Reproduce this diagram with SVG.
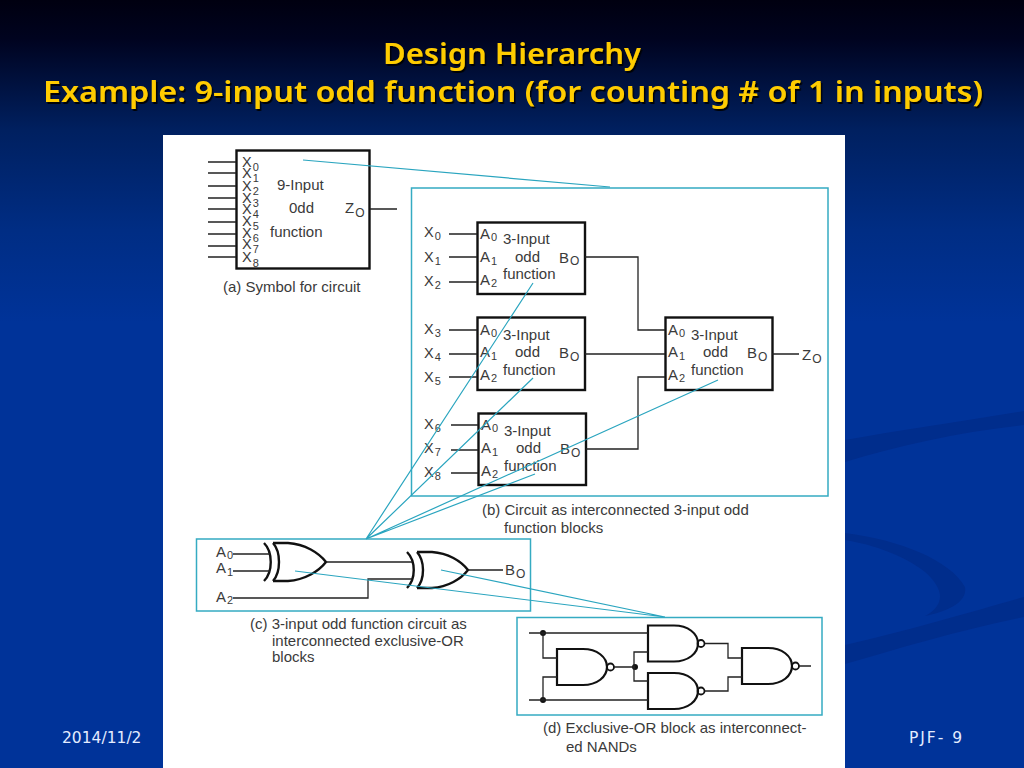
<svg xmlns="http://www.w3.org/2000/svg" width="1024" height="768" viewBox="0 0 1024 768">
<defs>
<linearGradient id="bg" x1="0" y1="0" x2="0" y2="1">
<stop offset="0" stop-color="#000010"/><stop offset="0.05" stop-color="#00031f"/><stop offset="0.17" stop-color="#002060"/><stop offset="0.3" stop-color="#002d84"/><stop offset="0.42" stop-color="#003399"/><stop offset="1" stop-color="#003399"/>
</linearGradient>
<filter id="shadow" x="-5%" y="-20%" width="110%" height="140%"><feDropShadow dx="1.5" dy="2" stdDeviation="0.6" flood-color="#000" flood-opacity="0.9"/></filter>
<path id="nand" d="M0 0H26C40 0 50 8 50 18C50 28 40 36 26 36H0Z" fill="none" stroke="#111" stroke-width="2.2"/>
</defs>
<style>
text{font-family:"Liberation Sans",Arial,sans-serif;fill:#3a3a3a;font-size:15px}
.title{font-family:"Noto Sans","DejaVu Sans",sans-serif;font-weight:600;font-size:29px;fill:#fc0;text-anchor:middle}
.foot{fill:#e4ecff;font-size:15.5px;font-family:"DejaVu Sans",sans-serif}
.blk{fill:none;stroke:#111;stroke-width:2.4}
.w{fill:none;stroke:#222;stroke-width:1.3}
.g{fill:none;stroke:#111;stroke-width:2.4}
.t{fill:none;stroke:#2aa5bf;stroke-width:1.2}
.tb{fill:#fff;stroke:#35abc2;stroke-width:1.5}
.s{font-size:11px}
.o{font-size:12px}
.big{font-size:14.500px}
.sw{fill:#002d8c}
.bub{fill:none;stroke:#111;stroke-width:1.8}
</style>
<rect id="background" width="1024" height="768" fill="url(#bg)"/>
<g id="swooshes">
<path class="sw" d="M845 440C900 430 970 420 1024 411V425C960 432 900 445 845 462Z"/>
<path class="sw" d="M845 645C910 630 970 612 1024 597V617C960 630 900 648 845 664Z"/>
<path class="sw" d="M845 533C900 540 950 560 965 587C968 603 945 612 925 616C945 605 945 590 925 572C905 556 875 545 845 540Z"/>
</g>
<g id="title">
<text class="title" x="512" y="64" filter="url(#shadow)" textLength="258" lengthAdjust="spacingAndGlyphs">Design Hierarchy</text>
<text class="title" x="513" y="102" filter="url(#shadow)" textLength="940" lengthAdjust="spacingAndGlyphs">Example: 9-input odd function (for counting # of 1 in inputs)</text>
</g>
<rect id="panel" x="163" y="135" width="682" height="633" fill="#fff"/>
<text class="foot" x="62" y="743">2014/11/2</text>
<text class="foot" x="909" y="743" textLength="53">PJF- 9</text>

<g id="frames">
<rect class="tb" x="411.500" y="188" width="416.500" height="308"/>
<rect class="tb" x="196.500" y="539" width="334" height="72"/>
<rect class="tb" x="517" y="617.500" width="305" height="97.500"/>
</g>

<g id="node-a">
<rect class="blk" x="236.500" y="150.500" width="133" height="118"/>
<text x="242" y="167" class="big">X<tspan class="s" dx="1" dy="3.500">0</tspan></text>
<text x="242" y="178" class="big">X<tspan class="s" dx="1" dy="3.500">1</tspan></text>
<text x="242" y="191" class="big">X<tspan class="s" dx="1" dy="3.500">2</tspan></text>
<text x="242" y="203" class="big">X<tspan class="s" dx="1" dy="3.500">3</tspan></text>
<text x="242" y="214" class="big">X<tspan class="s" dx="1" dy="3.500">4</tspan></text>
<text x="242" y="226" class="big">X<tspan class="s" dx="1" dy="3.500">5</tspan></text>
<text x="242" y="238" class="big">X<tspan class="s" dx="1" dy="3.500">6</tspan></text>
<text x="242" y="249" class="big">X<tspan class="s" dx="1" dy="3.500">7</tspan></text>
<text x="242" y="262" class="big">X<tspan class="s" dx="1" dy="4.500">8</tspan></text>
<text x="277" y="190">9-Input</text>
<text x="289" y="213">0dd</text>
<text x="270" y="237">function</text>
<text x="345" y="213">Z<tspan class="o" dx="1" dy="4">O</tspan></text>
<text x="223" y="292">(a) Symbol for circuit</text>
</g>

<g id="node-b1">
<rect class="blk" x="477.500" y="222.500" width="107.500" height="71.500"/>
<text x="480" y="239">A<tspan class="s" dx="1" dy="2">0</tspan></text>
<text x="480" y="262">A<tspan class="s" dx="1" dy="3">1</tspan></text>
<text x="480" y="285">A<tspan class="s" dx="1" dy="2">2</tspan></text>
<text x="503" y="244">3-Input</text>
<text x="515" y="262">odd</text>
<text x="503" y="279">function</text>
<text x="559" y="263">B<tspan class="o" dx="1" dy="2">O</tspan></text>
</g>
<g id="node-b2">
<rect class="blk" x="477.500" y="317.500" width="107.500" height="72.500"/>
<text x="480" y="335">A<tspan class="s" dx="1" dy="2">0</tspan></text>
<text x="480" y="357">A<tspan class="s" dx="1" dy="3">1</tspan></text>
<text x="480" y="380">A<tspan class="s" dx="1" dy="2">2</tspan></text>
<text x="503" y="340">3-Input</text>
<text x="515" y="357">odd</text>
<text x="503" y="375">function</text>
<text x="559" y="358">B<tspan class="o" dx="1" dy="3">O</tspan></text>
</g>
<g id="node-b3">
<rect class="blk" x="478.500" y="413.500" width="107.500" height="71.500"/>
<text x="481" y="430">A<tspan class="s" dx="1" dy="2">0</tspan></text>
<text x="481" y="453">A<tspan class="s" dx="1" dy="3">1</tspan></text>
<text x="481" y="476">A<tspan class="s" dx="1" dy="2">2</tspan></text>
<text x="504" y="436">3-Input</text>
<text x="516" y="453">odd</text>
<text x="504" y="471">function</text>
<text x="560" y="454">B<tspan class="o" dx="1" dy="3">O</tspan></text>
</g>
<g id="node-b4">
<rect class="blk" x="665.500" y="317.500" width="107" height="72.500"/>
<text x="668" y="335">A<tspan class="s" dx="1" dy="2">0</tspan></text>
<text x="668" y="357">A<tspan class="s" dx="1" dy="3">1</tspan></text>
<text x="668" y="380">A<tspan class="s" dx="1" dy="2">2</tspan></text>
<text x="691" y="340">3-Input</text>
<text x="703" y="357">odd</text>
<text x="691" y="375">function</text>
<text x="747" y="358">B<tspan class="o" dx="1" dy="3">O</tspan></text>
</g>
<g id="labels-b">
<text x="424" y="237" class="big">X<tspan class="s" dx="1" dy="3">0</tspan></text>
<text x="424" y="262" class="big">X<tspan class="s" dx="1" dy="3">1</tspan></text>
<text x="424" y="286" class="big">X<tspan class="s" dx="1" dy="3">2</tspan></text>
<text x="424" y="334" class="big">X<tspan class="s" dx="1" dy="3">3</tspan></text>
<text x="424" y="358" class="big">X<tspan class="s" dx="1" dy="3">4</tspan></text>
<text x="424" y="382" class="big">X<tspan class="s" dx="1" dy="3">5</tspan></text>
<text x="424" y="429" class="big">X<tspan class="s" dx="1" dy="3">6</tspan></text>
<text x="424" y="453" class="big">X<tspan class="s" dx="1" dy="3">7</tspan></text>
<text x="424" y="477" class="big">X<tspan class="s" dx="1" dy="3">8</tspan></text>
<text x="802" y="360">Z<tspan class="o" dx="1" dy="3">O</tspan></text>
<text x="482" y="515">(b) Circuit as interconnected 3-input odd</text>
<text x="504" y="533">function blocks</text>
</g>

<g id="node-c">
<path class="g" d="M264 543C273 552 273 572 264 581M273 543C281 552 281 572 273 581M273 543H288C305 544 319 553 326 562C319 571 305 580 288 581H273"/>
<path class="g" d="M407 552C416 561 416 579 407 588M417 552C425 561 425 579 417 588M417 552H432C448 553 461 561 468 570C461 579 448 587 432 588H417"/>
<text x="216" y="557">A<tspan class="s" dx="1" dy="2">0</tspan></text>
<text x="216" y="573">A<tspan class="s" dx="1" dy="3">1</tspan></text>
<text x="216" y="602">A<tspan class="s" dx="1" dy="2">2</tspan></text>
<text x="505" y="575">B<tspan class="o" dx="1" dy="3">O</tspan></text>
<text x="250" y="629">(c) 3-input odd function circuit as</text>
<text x="272" y="646">interconnected exclusive-OR</text>
<text x="272" y="662">blocks</text>
</g>

<g id="node-d">
<use href="#nand" x="557" y="649"/><circle class="bub" cx="610.500" cy="667" r="3.500"/>
<use href="#nand" x="648" y="625.500"/><circle class="bub" cx="701" cy="643.500" r="3.500"/>
<use href="#nand" x="648" y="673"/><circle class="bub" cx="701" cy="691" r="3.500"/>
<use href="#nand" x="742" y="648"/><circle class="bub" cx="795.500" cy="666" r="3.500"/>
<circle cx="543" cy="633" r="3" fill="#111"/><circle cx="543" cy="700" r="3" fill="#111"/><circle cx="635" cy="667" r="3" fill="#111"/>
<text x="543" y="733">(d) Exclusive-OR block as interconnect-</text>
<text x="566" y="752">ed NANDs</text>
</g>

<g id="connectors">
<path class="w" d="M208 162H236M208 173H236M208 186H236M208 198H236M208 209H236M208 222H236M208 234H236M208 246H236M208 257H236M370 209H397"/>
<path class="w" d="M449 234H477M449 257H477M449 282H477M449 330H477M449 354H477M449 377H477M451 425H478M451 450H478M451 473H478"/>
<path class="w" d="M585 257H638V330H665M585 354H665M586 449H638V377H665M772 354H799"/>
<path class="w" d="M233 554H270M233 571H270M326 562H412M233 598H368V579H412M468 570H503"/>
<path class="w" d="M529 633H648M543 633V658H557M529 700H648M543 700V677H557M614 667H635M648 652H634V681H648M705 643.500H728V658H742M705 691H728V677H742M799 666H811"/>
<g id="teal">
<path class="t" d="M303 160L610 187"/>
<path class="t" d="M366 539L533 283M366 539L533 378M366 539L535 474M366 539L718 380"/>
<path class="t" d="M295 571L665 617M441 570L665 617"/>
</g>
</g>
</svg>
